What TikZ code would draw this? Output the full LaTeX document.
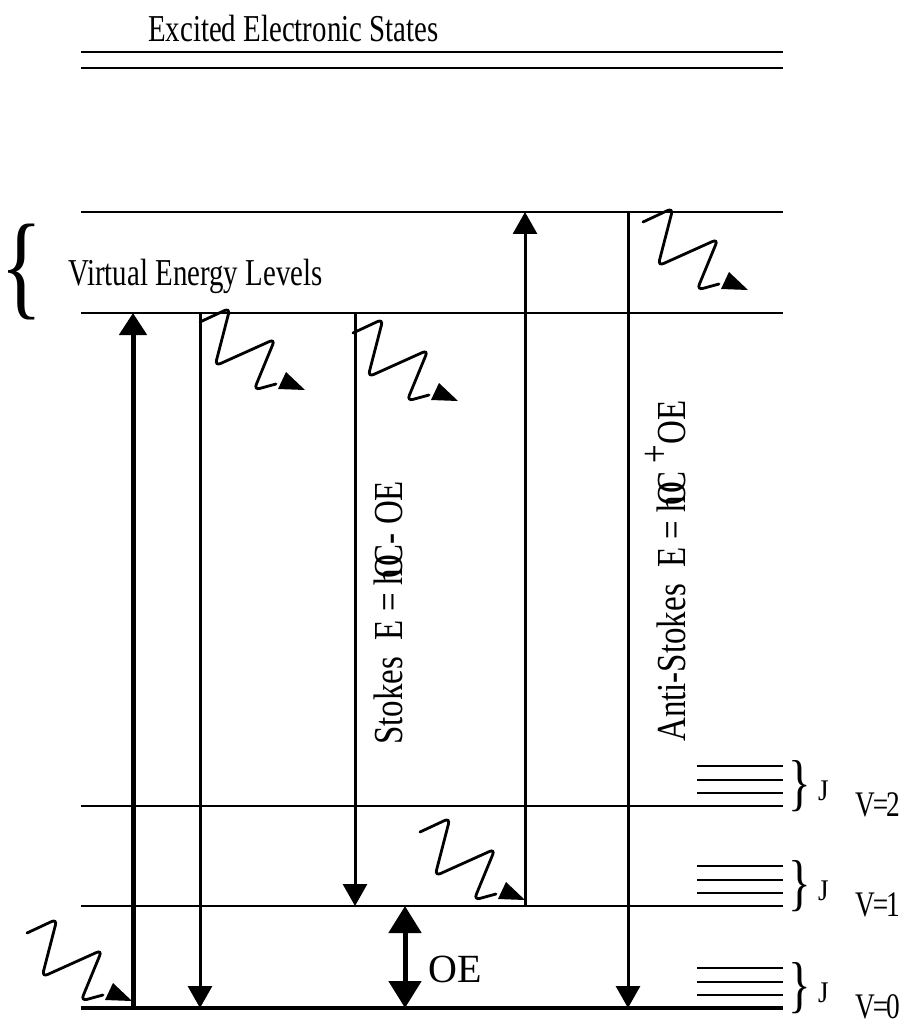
\documentclass[tikz,border=0pt]{standalone}
\usepackage{fontspec}
\setmainfont{Liberation Serif}
\usepackage{graphicx}
\usetikzlibrary{arrows.meta, calc}

\newcommand{\narrowtxt}[1]{\scalebox{0.76}[1]{#1}}
\newcommand{\talltxt}[1]{\scalebox{1}[1.25]{#1}}

\begin{document}
\begin{tikzpicture}[
    x=1pt, y=-1pt,
    lbl/.style={inner sep=0pt, anchor=base west},
    big/.style={font=\fontsize{38}{40}\selectfont},
    side/.style={font=\fontsize{33}{36}\selectfont},
    flow/.style={line width=3pt, -{Triangle[width=24pt,length=22pt]}},
    pump/.style={line width=5pt, -{Triangle[width=27pt,length=22pt]}},
    gap/.style={line width=5pt, {Triangle[width=32pt,length=27pt]}-{Triangle[width=32pt,length=27pt]}},
    squiggle/.pic={
        \draw[line width=2.8pt, rounded corners=6pt, line cap=round] (0,0) -- (30,-14) -- (15,44) -- (75,17) -- (54,68) -- (76,62);
        \fill (86,50) -- (78,67) -- (105,68) -- cycle;
    },
]
\useasboundingbox (0,0) rectangle (912,1024);

% levels
\foreach \n/\y/\w in {exA/52/2.8, exB/68/2.5, virA/212/2, virB/313/2, vib2/806/2, vib1/906/2, vib0/1008/4} {
    \coordinate (\n) at (81,\y);
    \draw[line width=\w pt] (\n) -- ++(702,0);
}
\node[lbl, big] (title) at (148,42) {\narrowtxt{Excited Electronic States}};
\node[inner sep=0pt, font=\fontsize{116}{120}\selectfont] (vbrace) at (22,272) {\narrowtxt{\{}};
\node[lbl, big] (virt) at (68,285) {\narrowtxt{Virtual Energy Levels}};

% rotational sublevels
\foreach \lv/\ly in {2/806, 1/906, 0/1008} {
    \foreach \dy in {13,26,40}
        \draw[line width=2pt] (697,\ly-\dy) -- (783,\ly-\dy);
    \node[inner sep=0pt] (br\lv) at (800,\ly-20) {\fontsize{62}{64}\selectfont\narrowtxt{\}}};
    \node[lbl] (j\lv) at (818,\ly-6) {\fontsize{30}{32}\selectfont\scalebox{0.9}[1]{J}};
    \node[lbl] (v\lv) at (855,\ly+10) {\fontsize{36}{38}\selectfont\narrowtxt{V\kern-.08em=\kern-.08em\lv}};
}

% transitions
\coordinate (colP) at (133,0);
\coordinate (colR) at (200,0);
\coordinate (colS) at (355,0);
\coordinate (colD) at (405,0);
\coordinate (colU) at (525,0);
\coordinate (colA) at (628,0);
\draw[pump] (colP |- vib0) -- (colP |- virB);
\draw[flow] (colR |- virB) -- (colR |- vib0);
\draw[flow] (colS |- virB) -- (colS |- vib1);
\draw[flow] (colU |- vib1) -- (colU |- virA);
\draw[flow] (colA |- virA) -- (colA |- vib0);
\draw[gap] (colD |- vib0) -- (colD |- vib1);
\node[lbl, font=\fontsize{40}{42}\selectfont] (dE) at (428,982) {OE};

\node[lbl, side, rotate=90] (stokes) at (402,745) {\talltxt{Stokes\ \ E = h\kern-.3em O\kern-.35em C- OE}};
\node[lbl, side, rotate=90] (astokes) at (685,742) {\talltxt{Anti-Stokes\ \ E = h\kern-.3em O\kern-.35em C \raisebox{.4em}{+}OE}};

% photons
\pic (phR) at (200,322) {squiggle};
\pic (phS) at (353,333) {squiggle};
\pic (phA) at (643,222) {squiggle};
\pic (phU) at (420,832) {squiggle};
\pic (phP) at (27,933) {squiggle};
\end{tikzpicture}
\end{document}
